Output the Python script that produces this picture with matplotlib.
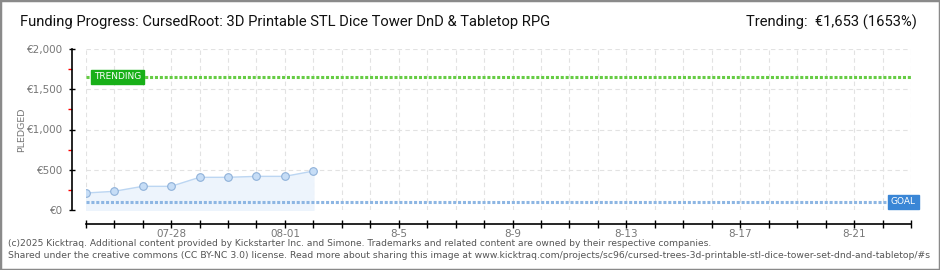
import matplotlib.pyplot as plt
import matplotlib.dates as mdates
import pandas as pd
from matplotlib.patches import Rectangle

# data
dates = pd.to_datetime(['2025-07-25', '2025-07-26', '2025-07-27', '2025-07-28', '2025-07-29',
                        '2025-07-30', '2025-07-31', '2025-08-01', '2025-08-02'])
pledged = [211, 232, 294, 294, 406, 406, 418, 418, 484]
goal = 100
trending = 1653
x_start = pd.Timestamp('2025-07-25')
x_end = pd.Timestamp('2025-08-23')
label_dates = pd.to_datetime(['2025-07-28', '2025-08-01', '2025-08-05', '2025-08-09',
                              '2025-08-13', '2025-08-17', '2025-08-21'])
label_text = ['07-28', '08-01', '8-5', '8-9', '8-13', '8-17', '8-21']
y_ticks = [0, 500, 1000, 1500, 2000]
y_labels = ['€0', '€500', '€1,000', '€1,500', '€2,000']

title = 'Funding Progress: CursedRoot: 3D Printable STL Dice Tower DnD & Tabletop RPG'
trend_text = 'Trending:  €1,653 (1653%)'
footer1 = ('(c)2025 Kicktraq. Additional content provided by Kickstarter Inc. and Simone. '
           'Trademarks and related content are owned by their respective companies.')
footer2 = ('Shared under the creative commons (CC BY-NC 3.0) license. Read more about sharing this image at '
           'www.kicktraq.com/projects/sc96/cursed-trees-3d-printable-stl-dice-tower-set-dnd-and-tabletop/#s')

fig = plt.figure(figsize=(9.4, 2.7), dpi=100)
ax = fig.add_axes([85.7 / 940, 60 / 270, (911 - 85.7) / 940, 161 / 270])

ax.fill_between(dates, pledged, 0, color='#edf4fc', zorder=1)
ax.plot(dates, pledged, color='#bcd6f2', lw=1, marker='o', ms=5.5,
        mfc='#c6ddf6', mec='#8fb1d9', mew=0.8, zorder=3)

ax.axhline(trending, color='#66cc44', lw=2.2, ls=(0, (1, 0.6)), zorder=2)
ax.axhline(goal, color='#8db6e3', lw=2.2, ls=(0, (1, 0.6)), zorder=2)

ax.set_xlim(x_start, x_end)
ax.set_ylim(0, 2000)

# labelled days as major ticks, every day as minor ticks
ax.set_xticks(label_dates)
ax.set_xticklabels(label_text)
ax.xaxis.set_minor_locator(mdates.DayLocator())
ax.tick_params(axis='x', which='both', direction='inout', length=6, width=1, color='black')
ax.tick_params(axis='x', which='major', pad=0.5, labelsize=7.5, labelcolor='#777777')

ax.set_yticks(y_ticks)
ax.set_yticklabels(y_labels)
ax.set_yticks([250, 750, 1250, 1750], minor=True)
ax.tick_params(axis='y', which='major', direction='inout', length=5, width=1,
               color='black', labelsize=7.5, labelcolor='#777777', pad=4)
ax.tick_params(axis='y', which='minor', direction='out', length=3, width=1, color='red')

ax.grid(True, which='both', axis='x', color='#e2e2e2', ls=(0, (4, 3)), lw=0.8)
ax.grid(True, which='major', axis='y', color='#e2e2e2', ls=(0, (4, 3)), lw=0.8)
ax.set_axisbelow(True)

for s in ['top', 'right']:
    ax.spines[s].set_visible(False)
ax.spines['left'].set_position(('outward', 10))
ax.spines['bottom'].set_position(('outward', 10))
ax.spines['left'].set_linewidth(1.2)
ax.spines['bottom'].set_linewidth(1.2)

fig.text(22 / 940, 1 - 130 / 270, 'PLEDGED', fontsize=6.8, color='#777777',
         rotation=90, va='center', ha='center')

# trending / goal tags
ax.text(pd.Timestamp('2025-07-25 07:00'), trending, 'TRENDING', fontsize=6.5, color='white',
        va='center', ha='left', zorder=5,
        bbox=dict(boxstyle='square,pad=0.3', fc='#18b018', ec='#18b018'))
ax.text(pd.Timestamp('2025-08-22 07:00'), goal, 'GOAL', fontsize=6.5, color='white',
        va='center', ha='left', zorder=5,
        bbox=dict(boxstyle='square,pad=0.3', fc='#3a86d6', ec='#3a86d6'))

fig.text(20 / 940, 1 - 22 / 270, title, fontsize=10.6, family='Roboto', va='center', ha='left',
         color='#111111')
fig.text(917 / 940, 1 - 22 / 270, trend_text, fontsize=10.6, family='Roboto', va='center', ha='right',
         color='#111111')
fig.text(8 / 940, 1 - 243 / 270, footer1, fontsize=6.6, color='#555555', va='center')
fig.text(8 / 940, 1 - 256 / 270, footer2, fontsize=6.7, color='#555555', va='center')

fig.patches.append(Rectangle((0, 0), 1, 1, transform=fig.transFigure, fill=False,
                             ec='#8a8a8a', lw=2.5))

fig.savefig('out.png', dpi=100)
